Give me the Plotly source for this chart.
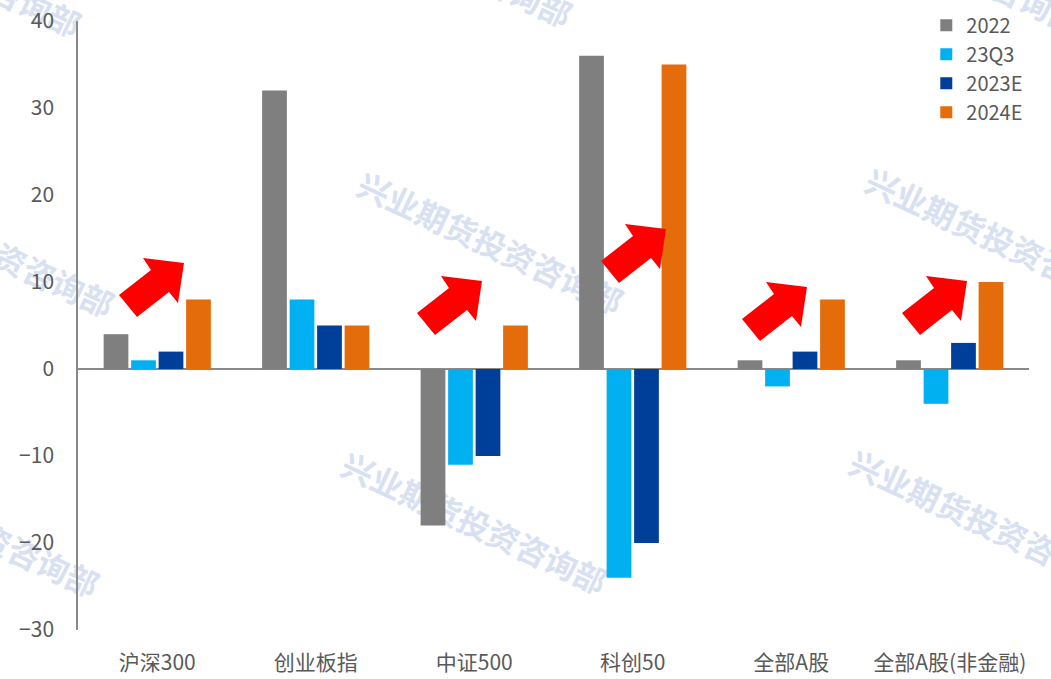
import plotly.graph_objects as go

categories = ["沪深300", "创业板指", "中证500", "科创50", "全部A股", "全部A股(非金融)"]
series_names = ["2022", "23Q3", "2023E", "2024E"]
v2022 = [4, 32, -18, 36, 1, 1]
v23q3 = [1, 8, -11, -24, -2, -4]
v2023e = [2, 5, -10, -20, 2, 3]
v2024e = [8, 5, 5, 35, 8, 10]
colors = ["#7f7f7f", "#00b0f0", "#003f99", "#e46c0a"]
y_ticks = [-30, -20, -10, 0, 10, 20, 30, 40]

W, H = 1051, 679
L, R, T, B = 78, 22, 21, 49
PW, PH = W - L - R, H - T - B

def px2paper(px, py):
    return (px - L) / PW, (H - B - py) / PH

fig = go.Figure()
for name, vals, c in zip(series_names, [v2022, v23q3, v2023e, v2024e], colors):
    fig.add_trace(go.Bar(name=name, x=categories, y=vals, marker=dict(color=c, line=dict(width=0))))

# red arrows (decoration)
arrow_shape = [(119, 295), (151, 270), (143, 258), (184, 263), (178, 303), (169, 292), (137, 317)]
arrow_offsets = [(0, 0), (298, 18), (482, -34), (623, 24), (783, 18)]
shapes = []
for dx, dy in arrow_offsets:
    pts = [px2paper(x + dx, y + dy) for x, y in arrow_shape]
    path = "M" + " L".join(f"{a:.5f},{b:.5f}" for a, b in pts) + " Z"
    shapes.append(dict(type="path", path=path, xref="paper", yref="paper",
                       fillcolor="#ff0000", line=dict(width=0), layer="above"))

# watermarks
wm_text = "兴业期货投资咨询部"
wm_centers = [(-51, -35), (440, -45), (950, -38),
              (-18, 245), (491, 242), (999, 238),
              (-33, 525), (475, 522), (983, 520)]
annotations = []
for cx, cy in wm_centers:
    ax_, ay_ = px2paper(cx, cy)
    annotations.append(dict(text=wm_text, x=ax_, y=ay_, xref="paper", yref="paper",
                            showarrow=False, textangle=25, xanchor="center", yanchor="middle",
                            font=dict(family="Noto Sans CJK SC", size=32, color="#d8e1f2", weight="bold")))

fig.update_layout(
    width=W, height=H,
    margin=dict(l=L, r=R, t=T, b=B, autoexpand=False),
    paper_bgcolor="white", plot_bgcolor="white",
    barmode="group", bargap=0.306, bargroupgap=0.1,
    font=dict(family="Noto Sans CJK SC", size=20, color="#595959"),
    legend=dict(x=0.892, y=1.025, xanchor="left", yanchor="top", bgcolor="rgba(0,0,0,0)",
                font=dict(size=20, color="#595959"), itemwidth=30, tracegroupgap=0),
    shapes=shapes,
    annotations=annotations,
)
fig.update_xaxes(showline=False, showgrid=False, ticks="", ticklabelstandoff=18, automargin=False,
                 tickfont=dict(size=21, color="#595959"))
fig.update_yaxes(range=[-30, 40], tickvals=y_ticks, showgrid=False, showline=True, automargin=False,
                 linecolor="#898989", linewidth=1.5, ticks="", zeroline=True,
                 zerolinecolor="#898989", zerolinewidth=1.5, ticklabelstandoff=18,
                 tickfont=dict(size=21, color="#595959"))

# move watermark annotations beneath the bars (as in the reference)
post_js = """
var gd = document.getElementById('{plot_id}');
var below = gd.querySelector('.layer-below');
if (below) { gd.querySelectorAll('.infolayer .annotation').forEach(function(a){ below.appendChild(a); }); }
"""
fig.write_html("out.html", post_script=post_js)
